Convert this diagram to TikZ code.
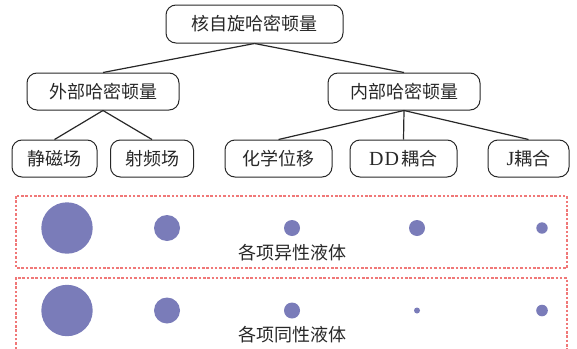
\documentclass[tikz,border=0pt]{standalone}
\usepackage{fontspec}
\newfontfamily\cjk{Noto Sans CJK SC}
\newfontfamily\latinserif{Liberation Serif}
\definecolor{ink}{RGB}{40,40,40}
\definecolor{dot}{RGB}{122,124,185}
\definecolor{redash}{RGB}{240,120,120}
\begin{document}
\begin{tikzpicture}[x=1pt,y=-1pt,
  box/.style={draw=ink, line width=1pt, rounded corners=10pt, text=ink,
    font=\cjk\fontsize{18}{20}\selectfont, inner sep=0pt, minimum height=37pt},
  link/.style={draw=ink, line width=1.2pt},
  frame/.style={draw=redash, line width=1.1pt, dash pattern=on 2.5pt off 1.8pt},
  blob/.style={fill=dot, draw=none},
  lbl/.style={text=ink, font=\cjk\fontsize{18}{20}\selectfont, inner sep=0pt}]
\useasboundingbox (0,0) rectangle (577,348);
% tree
\node[box, minimum width=177pt, minimum height=38pt] (root) at (254.5,24) {核自旋哈密顿量};
\node[box, minimum width=152pt] (ext) at (103,91.5) {外部哈密顿量};
\node[box, minimum width=152pt] (int) at (404,91.5) {内部哈密顿量};
\node[box, minimum width=85pt] (b1) at (54.5,158.5) {静磁场};
\node[box, minimum width=83pt] (b2) at (152,158.5) {射频场};
\node[box, minimum width=107pt] (b3) at (278.5,158.5) {化学位移};
\node[box, minimum width=107pt] (b4) at (403.5,158.5) {{\latinserif\fontsize{20}{20}\selectfont D\kern1pt D}\,耦合};
\node[box, minimum width=81pt] (b5) at (528.5,158.5) {{\latinserif\fontsize{20}{20}\selectfont J}耦合};
\draw[link] (root.south) -- (ext.north);
\draw[link] (root.south) -- (int.north);
\draw[link] (ext.south) -- (b1.north);
\draw[link] (ext.south) -- (b2.north);
\draw[link] (int.south) -- (b3.north);
\draw[link] (int.south) -- (b4.north);
\draw[link] (int.south) -- (b5.north);
% frames
\draw[frame] (16,196) rectangle (567,268);
\draw[frame] (16,349) -- (16,278) -- (567,278) -- (567,349);
% row 1
\fill[blob] (67,228) circle (25.7);
\fill[blob] (167,228) circle (13);
\fill[blob] (292,228) circle (8);
\fill[blob] (417,228) circle (8);
\fill[blob] (542,228) circle (5.7);
\node[lbl] (l1) at (292,253) {各项异性液体};
% row 2
\fill[blob] (67,310.5) circle (25.7);
\fill[blob] (167,310.5) circle (13);
\fill[blob] (292,310.5) circle (8);
\fill[blob] (417,310.5) circle (3);
\fill[blob] (542,310.5) circle (5.8);
\node[lbl] (l2) at (292,335) {各项同性液体};
\end{tikzpicture}
\end{document}
